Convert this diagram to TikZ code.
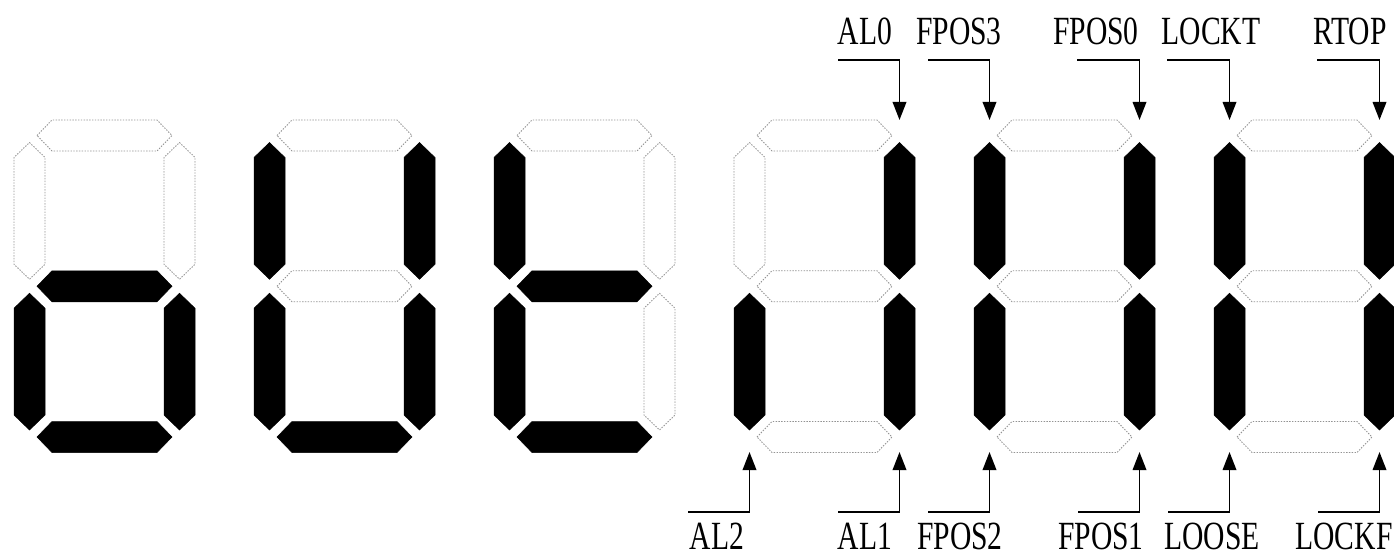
\documentclass[tikz,border=0pt]{standalone}
\usepackage{fontspec}
\newfontfamily\labfont[FakeStretch=0.74]{Liberation Serif}
\usetikzlibrary{arrows.meta}
\tikzset{
  segon/.style={fill=black,draw=black,line width=0.5pt},
  segoff/.style={draw=gray!85,line width=0.9pt,dash pattern=on 1.4pt off 1.4pt},
  lab/.style={font=\labfont\fontsize{40pt}{42pt}\selectfont,inner sep=0pt,anchor=base},
  arr/.style={line width=1.9pt,-{Triangle[width=13.5pt,length=18pt]}},
}
\newcommand\segH[3]{\draw[#3] (#1+7.5,#2) -- ++(15,-15.5) -- ++(105,0) -- ++(15,15.5) -- ++(-15,15.5) -- ++(-105,0) -- cycle;}
\newcommand\segV[3]{\draw[#3] (#1,#2+7) -- ++(15.5,15) -- ++(0,106.75) -- ++(-15.5,15) -- ++(-15.5,-15) -- ++(0,-106.75) -- cycle;}
\newcommand\sevdigit[8]{%
  \pgfmathsetmacro\dxl{29.5+240*#1}%
  \pgfmathsetmacro\dxr{\dxl+150}%
  \segH{\dxl}{135.5}{#2}
  \segV{\dxl}{135.5}{#3}
  \segV{\dxr}{135.5}{#4}
  \segH{\dxl}{286.25}{#5}
  \segV{\dxl}{286.25}{#6}
  \segV{\dxr}{286.25}{#7}
  \segH{\dxl}{437}{#8}
}
\begin{document}
\begin{tikzpicture}[x=1pt,y=-1pt]
\useasboundingbox (0,0) rectangle (1394,556);
% digits: top, UL, UR, mid, LL, LR, bottom
\sevdigit{0}{segoff}{segoff}{segoff}{segon}{segon}{segon}{segon}
\sevdigit{1}{segoff}{segon}{segon}{segoff}{segon}{segon}{segon}
\sevdigit{2}{segoff}{segon}{segoff}{segon}{segon}{segoff}{segon}
\sevdigit{3}{segoff}{segoff}{segon}{segoff}{segon}{segon}{segoff}
\sevdigit{4}{segoff}{segon}{segon}{segoff}{segon}{segon}{segoff}
\sevdigit{5}{segoff}{segon}{segon}{segoff}{segon}{segon}{segoff}
% top labels
\node[lab] (AL0) at (865,45) {AL0};
\node[lab] (FPOS3) at (959,45) {FPOS3};
\node[lab] (FPOS0) at (1096,45) {FPOS0};
\node[lab] (LOCKT) at (1211,45) {LOCKT};
\node[lab] (RTOP) at (1350,45) {RTOP};
% bottom labels
\node[lab] (AL2) at (717,549) {AL2};
\node[lab] (AL1) at (865,549) {AL1};
\node[lab] (FPOS2) at (960,549) {FPOS2};
\node[lab] (FPOS1) at (1101,549) {FPOS1};
\node[lab] (LOOSE) at (1212,549) {LOOSE};
\node[lab] (LOCKF) at (1344,549) {LOCKF};
% arrow coordinates (top)
\coordinate (sAL0) at (838,60);   \coordinate (tAL0) at (899.5,120);
\coordinate (sFPOS3) at (928,60); \coordinate (tFPOS3) at (989.5,120);
\coordinate (sFPOS0) at (1077,60); \coordinate (tFPOS0) at (1139.5,120);
\coordinate (sLOCKT) at (1167,60); \coordinate (tLOCKT) at (1229.5,120);
\coordinate (sRTOP) at (1317,60); \coordinate (tRTOP) at (1379.5,120);
% arrow coordinates (bottom)
\coordinate (sAL2) at (688,512);  \coordinate (tAL2) at (749.5,452);
\coordinate (sAL1) at (838,512);  \coordinate (tAL1) at (899.5,452);
\coordinate (sFPOS2) at (928,512); \coordinate (tFPOS2) at (989.5,452);
\coordinate (sFPOS1) at (1078,512); \coordinate (tFPOS1) at (1139.5,452);
\coordinate (sLOOSE) at (1168,512); \coordinate (tLOOSE) at (1229.5,452);
\coordinate (sLOCKF) at (1318,512); \coordinate (tLOCKF) at (1379.5,452);
\foreach \n in {AL0,FPOS3,FPOS0,LOCKT,RTOP,AL2,AL1,FPOS2,FPOS1,LOOSE,LOCKF}{
  \draw[arr] (s\n) -| (t\n);
}
\end{tikzpicture}
\end{document}
